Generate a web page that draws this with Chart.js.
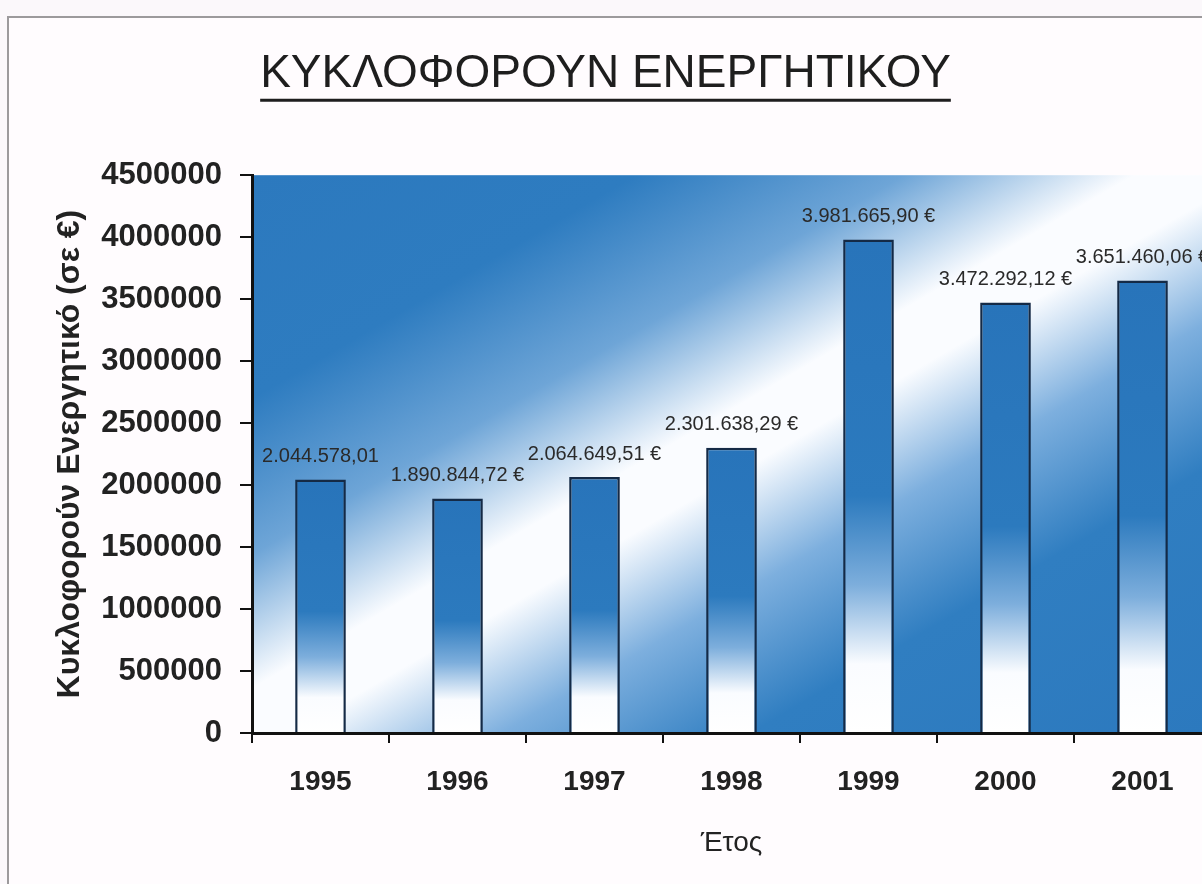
<!DOCTYPE html>
<html lang="el">
<head>
<meta charset="utf-8">
<title>Κυκλοφορούν Ενεργητικό</title>
<script src="https://cdn.jsdelivr.net/npm/chart.js@4.4.1/dist/chart.umd.min.js"></script>
<style>
  html, body { margin: 0; padding: 0; width: 1202px; height: 884px; overflow: hidden; background: #fbf8fb; }
  #frame {
    position: absolute; left: 7px; top: 16px; width: 1300px; height: 900px;
    border-left: 2px solid #9c9a9c; border-top: 2px solid #9c9a9c;
    background: #fffcfe;
  }
  #chart { position: absolute; left: 0; top: 0; }
</style>
</head>
<body>
<div id="frame"></div>
<canvas id="chart" width="1222" height="884"></canvas>
<script>
// Κυκλοφορούν ενεργητικό ανά έτος (σε €)
const years = ['1995', '1996', '1997', '1998', '1999', '2000', '2001'];
const currentAssets = [2044578.01, 1890844.72, 2064649.51, 2301638.29, 3981665.90, 3472292.12, 3651460.06];
const valueSuffix = ['', ' €', ' €', ' €', ' €', ' €', ' €'];
const yTickValues = [0, 500000, 1000000, 1500000, 2000000, 2500000, 3000000, 3500000, 4000000, 4500000];

const FONT = '"Liberation Sans", Arial, Helvetica, sans-serif';
const BLUE = 'rgb(44,121,190)';
const BAR_BLUE = 'rgb(40,116,186)';

// 2044578.01 -> "2.044.578,01"
function formatEuro(v) {
  const [intPart, dec] = v.toFixed(2).split('.');
  return intPart.replace(/\B(?=(\d{3})+(?!\d))/g, '.') + ',' + dec;
}

// Diagonal blue → white → blue wash behind the plot area
const plotBackground = {
  id: 'plotBackground',
  beforeDraw(chart) {
    const { ctx, chartArea: a } = chart;
    if (!a) return;
    const w = a.right - a.left, h = a.bottom - a.top;
    ctx.save();
    ctx.translate(a.left, a.top);
    ctx.scale(w, h);
    const g = ctx.createLinearGradient(0, 0, 1, 1);
    g.addColorStop(0, BLUE);
    g.addColorStop(0.2, 'rgb(46,124,192)');
    g.addColorStop(0.34, 'rgb(110,165,215)');
    g.addColorStop(0.46, 'rgb(250,252,255)');
    g.addColorStop(0.52, 'rgb(250,252,255)');
    g.addColorStop(0.63, 'rgb(125,175,222)');
    g.addColorStop(0.76, 'rgb(48,126,193)');
    g.addColorStop(1, BLUE);
    ctx.fillStyle = g;
    ctx.fillRect(0, 0, 1, 1);
    ctx.restore();
  }
};

// Underline under the chart title
const titleUnderline = {
  id: 'titleUnderline',
  afterDraw(chart) {
    const tb = chart.titleBlock;
    if (!tb || !tb.options.display) return;
    const { ctx } = chart;
    const f = tb.options.font;
    ctx.save();
    ctx.font = `${f.weight || 'normal'} ${f.size}px ${f.family}`;
    const text = tb.options.text;
    const tw = ctx.measureText(text).width;
    const cx = (tb.left + tb.right) / 2;
    const lh = f.size * 1.2;
    const y = tb.top + tb.options.padding.top + lh / 2 + f.size * 0.36 + 9;
    ctx.strokeStyle = '#1e1e1e';
    ctx.lineWidth = 3;
    ctx.beginPath();
    ctx.moveTo(cx - tw / 2, y);
    ctx.lineTo(cx + tw / 2, y);
    ctx.stroke();
    ctx.restore();
  }
};

// Value labels above each bar
const valueLabels = {
  id: 'valueLabels',
  afterDatasetsDraw(chart) {
    const { ctx } = chart;
    const meta = chart.getDatasetMeta(0);
    ctx.save();
    ctx.font = `20px ${FONT}`;
    ctx.fillStyle = '#2a2a2a';
    ctx.textAlign = 'center';
    ctx.textBaseline = 'middle';
    meta.data.forEach((bar, i) => {
      const v = chart.data.datasets[0].data[i];
      ctx.fillText(formatEuro(v) + valueSuffix[i], bar.x, bar.y - 23);
    });
    ctx.restore();
  }
};

// Vertical blue → white fill for each bar
function barFill(context) {
  const chart = context.chart;
  const y = chart.scales && chart.scales.y;
  if (!chart.chartArea || !y) return BAR_BLUE;
  const v = context.raw;
  const top = y.getPixelForValue(v);
  const base = y.getPixelForValue(0);
  const g = chart.ctx.createLinearGradient(0, top, 0, base);
  g.addColorStop(0, BAR_BLUE);
  g.addColorStop(0.52, 'rgb(44,122,190)');
  g.addColorStop(0.7, 'rgb(125,174,220)');
  g.addColorStop(0.86, 'rgb(250,252,255)');
  g.addColorStop(1, 'rgb(255,255,255)');
  return g;
}

new Chart(document.getElementById('chart'), {
  type: 'bar',
  data: {
    labels: years,
    datasets: [{
      label: 'Κυκλοφορούν Ενεργητικό',
      data: currentAssets,
      backgroundColor: barFill,
      borderColor: '#142a46',
      borderWidth: 2.5,
      barPercentage: 0.37,
      categoryPercentage: 1
    }]
  },
  options: {
    responsive: false,
    animation: false,
    layout: { padding: { left: 0, top: 47, right: 11, bottom: 0 } },
    plugins: {
      legend: { display: false },
      tooltip: { enabled: false },
      title: {
        display: true,
        text: 'ΚΥΚΛΟΦΟΡΟΥΝ ΕΝΕΡΓΗΤΙΚΟΥ',
        color: '#1e1e1e',
        font: { family: FONT, size: 46, weight: 'normal' },
        padding: { top: 0, bottom: 73 }
      }
    },
    scales: {
      x: {
        offset: true,
        grid: {
          display: true, drawOnChartArea: false, drawTicks: true, offset: true,
          tickLength: 10, color: '#111', lineWidth: 2
        },
        border: { display: true, color: '#111', width: 3 },
        ticks: { color: '#222', padding: 22, font: { family: FONT, size: 28, weight: 'bold' } },
        title: {
          display: true, text: 'Έτος', color: '#222',
          font: { family: FONT, size: 28, weight: 'normal' },
          padding: { top: 0, bottom: 24 }
        },
        afterFit(scale) { scale.height = 151; }
      },
      y: {
        min: 0,
        max: 4500000,
        afterBuildTicks(scale) { scale.ticks = yTickValues.map(v => ({ value: v })); },
        grid: {
          display: true, drawOnChartArea: false, drawTicks: true,
          tickLength: 12, color: '#111', lineWidth: 2
        },
        border: { display: true, color: '#111', width: 3 },
        ticks: {
          color: '#222', padding: 18,
          font: { family: FONT, size: 31, weight: 'bold' },
          callback: v => String(v)
        },
        title: {
          display: true, text: 'Κυκλοφορούν Ενεργητικό (σε €)', color: '#222',
          font: { family: FONT, size: 32, weight: 'bold' },
          padding: { top: 51, bottom: 0 }
        },
        afterFit(scale) { scale.width = 252; }
      }
    }
  },
  plugins: [plotBackground, titleUnderline, valueLabels]
});
</script>
</body>
</html>
